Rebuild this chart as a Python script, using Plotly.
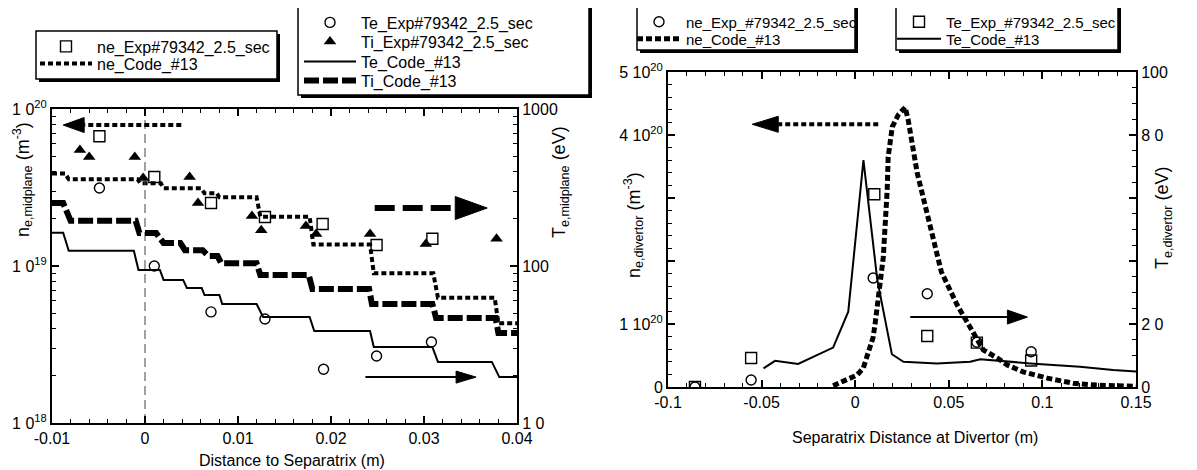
import plotly.graph_objects as go
import numpy as np

W, H = 1197, 470
FONT = "Arial, Liberation Sans, Helvetica, sans-serif"

# ---------------- data: midplane (left panel) ----------------
mid_ne_exp_x = [-0.0049, 0.0010, 0.0071, 0.0129, 0.0191, 0.0249, 0.0309]
mid_ne_exp = [6.7e19, 3.69e19, 2.52e19, 2.05e19, 1.85e19, 1.36e19, 1.49e19]

mid_te_exp_x = [-0.0049, 0.0010, 0.0071, 0.0129, 0.0192, 0.0249, 0.0308]
mid_te_exp = [314, 100, 51, 46, 22, 26.7, 32.8]

mid_ti_exp_x = [-0.0070, -0.0060, -0.0011, -0.0002, 0.0048, 0.0057, 0.0115,
                0.0125, 0.0173, 0.0184, 0.0242, 0.0302, 0.0378]
mid_ti_exp = [548, 494, 494, 363, 369, 252, 208, 169, 180, 160, 160, 138, 149]

mid_ne_code_x = [-0.0100, -0.0086, -0.0082, -0.0008, -0.0005, 0.0017, 0.0020, 0.0060,
                 0.0064, 0.0077, 0.0080, 0.0120, 0.0124, 0.0177, 0.0181, 0.0242,
                 0.0246, 0.0310, 0.0315, 0.0376, 0.0380, 0.0400]
mid_ne_code = [3.89e19, 3.89e19, 3.57e19, 3.57e19, 3.36e19, 3.36e19, 3.13e19, 3.13e19,
               2.91e19, 2.91e19, 2.74e19, 2.74e19, 2.06e19, 2.06e19, 1.37e19, 1.37e19,
               8.98e18, 8.98e18, 6.28e18, 6.28e18, 4.32e18, 4.32e18]

mid_te_code_x = [-0.0100, -0.0088, -0.0082, -0.0012, -0.0007, 0.0016, 0.0020, 0.0041,
                 0.0045, 0.0061, 0.0064, 0.0080, 0.0083, 0.0120, 0.0127, 0.0177,
                 0.0182, 0.0242, 0.0246, 0.0309, 0.0315, 0.0373, 0.0381, 0.0400]
mid_te_code = [163, 163, 125, 125, 94.3, 94.3, 81.5, 81.5, 72.4, 72.4, 65.3, 65.3,
               57.3, 57.3, 47.3, 47.3, 38.5, 38.5, 30.5, 30.5, 24.5, 24.5, 19.6, 19.6]

mid_ti_code_x = [-0.0100, -0.0088, -0.0080, -0.0010, -0.0006, 0.0012, 0.0020, 0.0038,
                 0.0043, 0.0062, 0.0068, 0.0078, 0.0082, 0.0120, 0.0124, 0.0176,
                 0.0180, 0.0241, 0.0244, 0.0309, 0.0313, 0.0377, 0.0380, 0.0400]
mid_ti_code = [252, 252, 194, 194, 162, 162, 140, 140, 126, 126, 116, 116,
               104, 104, 87.7, 87.7, 71.4, 71.4, 57.3, 57.3, 46.7, 46.7, 37.4, 37.4]

# ---------------- data: divertor (right panel) ----------------
div_ne_exp_x = [-0.0856, -0.0556, 0.0096, 0.0385, 0.065, 0.094]
div_ne_exp = [0.0, 0.11e20, 1.73e20, 1.48e20, 0.71e20, 0.56e20]

div_te_exp_x = [-0.0856, -0.0556, 0.0102, 0.0385, 0.065, 0.094]
div_te_exp = [0.0, 9.2, 61.2, 16.2, 14.1, 8.4]

div_ne_code_x = [-0.0118, -0.0043, 0.0010, 0.0043, 0.0096, 0.0107, 0.0128, 0.0150,
                 0.0171, 0.0176, 0.0198, 0.0230, 0.0267, 0.0283, 0.0331, 0.0400,
                 0.0460, 0.0545, 0.0600, 0.0630, 0.0684, 0.0759, 0.0812, 0.0897,
                 0.1026, 0.1165, 0.1290, 0.1500]
div_ne_code = [0.02e20, 0.11e20, 0.19e20, 0.30e20, 0.79e20, 1.02e20, 1.54e20, 2.06e20,
               3.13e20, 3.65e20, 4.13e20, 4.32e20, 4.44e20, 4.24e20, 3.40e20, 2.60e20,
               1.83e20, 1.30e20, 1.02e20, 0.83e20, 0.59e20, 0.46e20, 0.35e20, 0.24e20,
               0.14e20, 0.06e20, 0.03e20, 0.01e20]

div_te_code_x = [-0.0490, -0.0428, -0.0305, -0.0118, -0.0037, 0.0044, 0.0118, 0.0196,
                 0.0258, 0.0436, 0.0614, 0.0668, 0.0935, 0.1200, 0.1378, 0.1500]
div_te_code = [5.9, 8.3, 7.3, 12.5, 23.9, 72.0, 34.0, 10.4, 8.0, 7.5, 8.0, 8.8,
               7.5, 6.4, 5.4, 4.9]

# axis tick labels
mid_x_ticks = [-0.01, 0, 0.01, 0.02, 0.03, 0.04]
mid_x_ticktext = ["-0.01", "0", "0.01", "0.02", "0.03", "0.04"]
mid_ne_ticks = [1e18, 1e19, 1e20]
mid_ne_ticktext = ["1 0<sup>18</sup>", "1 0<sup>19</sup>", "1 0<sup>20</sup>"]
mid_t_ticks = [10, 100, 1000]
mid_t_ticktext = ["1 0", "100", "1000"]
div_x_ticks = [-0.1, -0.05, 0, 0.05, 0.1, 0.15]
div_x_ticktext = ["-0.1", "-0.05", "0", "0.05", "0.1", "0.15"]
div_ne_ticks = [0.0, 1e20, 2e20, 3e20, 4e20, 5e20]
div_ne_ticktext = ["0", "1 10<sup>20</sup>", "", "", "4 10<sup>20</sup>", "5 10<sup>20</sup>"]
div_t_ticks = [0, 20, 40, 60, 80, 100]
div_t_ticktext = ["0", "2 0", "", "", "8 0", "100"]

# ---------------- layout geometry (window pixels) ----------------
LX0, LX1, LYT, LYB = 52, 517, 109, 423
RX0, RX1, RYT, RYB = 668, 1136, 72, 387
PAGE_OFF = 8  # default page margin around the figure


def px(x):
    return (x - PAGE_OFF) / W


def py(y):
    return 1 - (y - PAGE_OFF) / H


fig = go.Figure()

BLACK = "black"
ne_dot_l = dict(color=BLACK, width=4, dash="5px,3px")
ne_dot_r = dict(color=BLACK, width=5, dash="6px,3px")
ti_dash = dict(color=BLACK, width=6, dash="15px,4px")
te_solid = dict(color=BLACK, width=2)

# --- left panel ---
fig.add_trace(go.Scatter(x=mid_ne_code_x, y=mid_ne_code, mode="lines", name="ne_Code_#13",
                         line=ne_dot_l, xaxis="x", yaxis="y", legend="legend2"))
fig.add_trace(go.Scatter(x=mid_te_code_x, y=mid_te_code, mode="lines", name="Te_Code_#13",
                         line=te_solid, xaxis="x", yaxis="y2", legend="legend5"))
fig.add_trace(go.Scatter(x=mid_ti_code_x, y=mid_ti_code, mode="lines", name="Ti_Code_#13",
                         line=ti_dash, xaxis="x", yaxis="y2", legend="legend6"))
fig.add_trace(go.Scatter(x=mid_ne_exp_x, y=mid_ne_exp, mode="markers", name="ne_Exp#79342_2.5_sec",
                         marker=dict(symbol="square-open", size=11, color=BLACK, line=dict(width=1.4)),
                         xaxis="x", yaxis="y", legend="legend"))
fig.add_trace(go.Scatter(x=mid_te_exp_x, y=mid_te_exp, mode="markers", name="Te_Exp#79342_2.5_sec",
                         marker=dict(symbol="circle-open", size=10, color=BLACK, line=dict(width=1.4)),
                         xaxis="x", yaxis="y2", legend="legend3"))
fig.add_trace(go.Scatter(x=mid_ti_exp_x, y=mid_ti_exp, mode="markers", name="Ti_Exp#79342_2.5_sec",
                         marker=dict(symbol="triangle-up", size=11, color=BLACK),
                         xaxis="x", yaxis="y2", legend="legend4"))

# --- right panel ---
fig.add_trace(go.Scatter(x=div_ne_code_x, y=div_ne_code, mode="lines", name="ne_Code_#13",
                         line=ne_dot_r, xaxis="x2", yaxis="y3", legend="legend8"))
fig.add_trace(go.Scatter(x=div_te_code_x, y=div_te_code, mode="lines", name="Te_Code_#13",
                         line=te_solid, xaxis="x2", yaxis="y4", legend="legend10"))
fig.add_trace(go.Scatter(x=div_ne_exp_x, y=div_ne_exp, mode="markers", name="ne_Exp_#79342_2.5_sec",
                         marker=dict(symbol="circle-open", size=10, color=BLACK, line=dict(width=1.4)),
                         xaxis="x2", yaxis="y3", legend="legend7"))
fig.add_trace(go.Scatter(x=div_te_exp_x, y=div_te_exp, mode="markers", name="Te_Exp_#79342_2.5_sec",
                         marker=dict(symbol="square-open", size=11, color=BLACK, line=dict(width=1.4)),
                         xaxis="x2", yaxis="y4", legend="legend9"))

# --- separatrix marker line (left panel) ---
fig.add_trace(go.Scatter(x=[0, 0], y=[1e18, 1e20], mode="lines", showlegend=False, hoverinfo="skip",
                         line=dict(color="#444", width=1, dash="9px,5px"), xaxis="x", yaxis="y"))

# --- arrows ---
mid_x_per_px = 0.05 / (LX1 - LX0)
mid_dec_per_px = 2.0 / (LYB - LYT)
div_x_per_px = 0.25 / (RX1 - RX0)
div_ne_per_px = 5e20 / (RYB - RYT)
div_t_per_px = 100.0 / (RYB - RYT)

arrows = [
    (0.0039, -0.0088, 7.9e19, "x", "y", ne_dot_l, 21, 7.5, "log", mid_x_per_px, mid_dec_per_px),
    (0.0247, 0.0368, 234.0, "x", "y2", dict(color=BLACK, width=6, dash="20px,8px"), 32, 11.5, "log", mid_x_per_px, mid_dec_per_px),
    (0.0237, 0.0356, 19.6, "x", "y2", te_solid, 20, 6, "log", mid_x_per_px, mid_dec_per_px),
    (0.0123, -0.0550, 4.17e20, "x2", "y3", ne_dot_l, 26, 8, "lin", div_x_per_px, div_ne_per_px),
    (0.0294, 0.0920, 22.2, "x2", "y4", te_solid, 20, 7, "lin", div_x_per_px, div_t_per_px),
]
for (xt0, xtip, yv, xa, ya, lstyle, hl, hh, kind, xpp, ypp) in arrows:
    d = 1 if xtip > xt0 else -1
    xbase = xtip - d * hl * xpp
    fig.add_trace(go.Scatter(x=[xt0, xbase], y=[yv, yv], mode="lines", line=lstyle,
                             showlegend=False, hoverinfo="skip", xaxis=xa, yaxis=ya))
    if kind == "log":
        yu, yl = yv * 10 ** (hh * ypp), yv * 10 ** (-hh * ypp)
    else:
        yu, yl = yv + hh * ypp, yv - hh * ypp
    fig.add_trace(go.Scatter(x=[xtip, xbase, xbase, xtip], y=[yv, yu, yl, yv], mode="lines",
                             fill="toself", fillcolor=BLACK, line=dict(color=BLACK, width=1),
                             showlegend=False, hoverinfo="skip", xaxis=xa, yaxis=ya))

tickfont = dict(family=FONT, size=16, color=BLACK)
common = dict(showline=True, linewidth=2, linecolor=BLACK, showgrid=False, zeroline=False,
              ticks="inside", tickwidth=1.5, tickcolor=BLACK, ticklen=7, tickfont=tickfont,
              automargin=False)

minor_log_ne = [float(m) * 10.0 ** e for e in (18, 19) for m in range(2, 10)]
minor_log_t = [float(m) * 10.0 ** e for e in (1, 2) for m in range(2, 10)]

fig.update_layout(
    width=W, height=H, margin=dict(l=0, r=0, t=0, b=0, autoexpand=False),
    paper_bgcolor="white", plot_bgcolor="white", font=dict(family=FONT, color=BLACK),
    xaxis=dict(domain=[px(LX0), px(LX1)], range=[-0.01, 0.04], anchor="y", mirror="ticks",
               tickmode="array", tickvals=mid_x_ticks, ticktext=mid_x_ticktext,
               minor=dict(ticks="inside", ticklen=4, tickwidth=1.2, tickcolor=BLACK, dtick=0.002, tick0=0),
               **common),
    yaxis=dict(domain=[py(LYB), py(LYT)], type="log", range=[18, 20], anchor="x",
               tickmode="array", tickvals=mid_ne_ticks, ticktext=mid_ne_ticktext,
               minor=dict(ticks="inside", ticklen=4, tickwidth=1.2, tickcolor=BLACK,
                          tickmode="array", tickvals=minor_log_ne),
               **common),
    yaxis2=dict(overlaying="y", side="right", type="log", range=[1, 3], anchor="x",
                tickmode="array", tickvals=mid_t_ticks, ticktext=mid_t_ticktext,
                minor=dict(ticks="inside", ticklen=4, tickwidth=1.2, tickcolor=BLACK,
                           tickmode="array", tickvals=minor_log_t),
                **common),
    xaxis2=dict(domain=[px(RX0), px(RX1)], range=[-0.1, 0.15], anchor="y3", mirror="ticks",
                tickmode="array", tickvals=div_x_ticks, ticktext=div_x_ticktext,
                minor=dict(ticks="inside", ticklen=4, tickwidth=1.2, tickcolor=BLACK, dtick=0.01, tick0=0),
                **common),
    yaxis3=dict(domain=[py(RYB), py(RYT)], range=[0, 5e20], anchor="x2",
                tickmode="array", tickvals=div_ne_ticks, ticktext=div_ne_ticktext,
                minor=dict(ticks="inside", ticklen=4, tickwidth=1.2, tickcolor=BLACK, dtick=2e19, tick0=0),
                **common),
    yaxis4=dict(overlaying="y3", side="right", range=[0, 100], anchor="x2",
                tickmode="array", tickvals=div_t_ticks, ticktext=div_t_ticktext,
                minor=dict(ticks="inside", ticklen=4, tickwidth=1.2, tickcolor=BLACK, dtick=5, tick0=0),
                **common),
)

# legend boxes with drop shadow
boxes = [(36, 31, 277, 79), (298, 5, 589, 95), (637, 5, 855, 50), (896, 5, 1118, 50)]
shapes = []
for (x0, y0, x1, y1) in boxes:
    shapes.append(dict(type="rect", xref="paper", yref="paper", x0=px(x0 + 3), x1=px(x1 + 3),
                       y0=py(y1 + 3), y1=py(y0 + 3), fillcolor=BLACK, line=dict(width=0), layer="above"))
    shapes.append(dict(type="rect", xref="paper", yref="paper", x0=px(x0), x1=px(x1),
                       y0=py(y1), y1=py(y0), fillcolor="white", line=dict(color=BLACK, width=1.5), layer="above"))
fig.update_layout(shapes=shapes)

# one legend per entry: (text start x, row centre y, item width, font size) in px
ROW_OFF = 16.5
legend_rows = {
    "legend": (97, 46, 52, 16), "legend2": (97, 63, 52, 16),
    "legend3": (361, 22, 52, 16), "legend4": (361, 41, 52, 16),
    "legend5": (361, 61, 52, 16), "legend6": (361, 80, 52, 16),
    "legend7": (686, 22, 44, 15), "legend8": (686, 39, 44, 15),
    "legend9": (946, 22, 44, 15), "legend10": (946, 39, 44, 15),
}
leg_layout = {}
for key, (tx, ry, iw, fs) in legend_rows.items():
    leg_layout[key] = dict(x=px(tx - (iw + 10)), y=py(ry - ROW_OFF), xanchor="left", yanchor="top",
                           bgcolor="rgba(0,0,0,0)", borderwidth=0, itemwidth=iw,
                           font=dict(family=FONT, size=fs, color=BLACK))
fig.update_layout(**leg_layout)

# axis titles as annotations
afont = dict(family=FONT, size=18, color=BLACK)
fig.update_layout(annotations=[
    dict(text="n<sub>e,midplane</sub> (m<sup>-3</sup>)", x=px(22), y=py(180), xref="paper", yref="paper",
         textangle=-90, showarrow=False, font=afont, xanchor="center", yanchor="middle"),
    dict(text="T<sub>e,midplane</sub> (eV)", x=px(560), y=py(182), xref="paper", yref="paper",
         textangle=-90, showarrow=False, font=afont, xanchor="center", yanchor="middle"),
    dict(text="Distance to Separatrix (m)", x=px(292), y=py(460), xref="paper", yref="paper",
         showarrow=False, font=dict(family=FONT, size=16, color=BLACK), xanchor="center", yanchor="middle"),
    dict(text="n<sub>e,divertor</sub> (m<sup>-3</sup>)", x=px(633), y=py(225), xref="paper", yref="paper",
         textangle=-90, showarrow=False, font=afont, xanchor="center", yanchor="middle"),
    dict(text="T<sub>e,divertor</sub> (eV)", x=px(1163), y=py(218), xref="paper", yref="paper",
         textangle=-90, showarrow=False, font=afont, xanchor="center", yanchor="middle"),
    dict(text="Separatrix Distance at Divertor (m)", x=px(915), y=py(437), xref="paper", yref="paper",
         showarrow=False, font=dict(family=FONT, size=16, color=BLACK), xanchor="center", yanchor="middle"),
])

fig.write_html("out.html")
